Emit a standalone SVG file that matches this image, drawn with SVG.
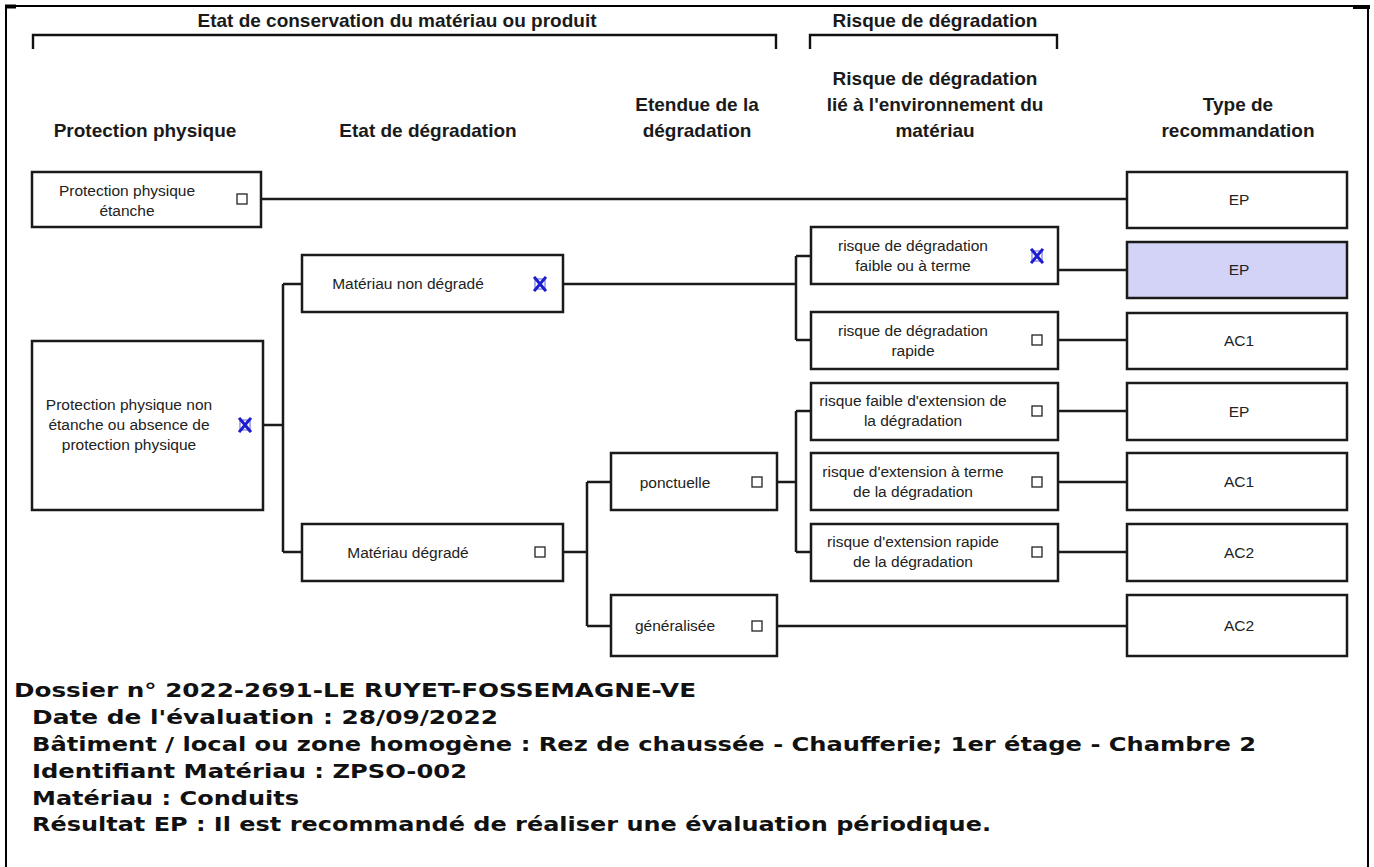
<svg xmlns="http://www.w3.org/2000/svg" width="1374" height="867" viewBox="0 0 1374 867">
<style>
.frame{stroke:#000;stroke-width:2;fill:none}
.brk{stroke:#111;stroke-width:2.4;fill:none}
.hd{font-family:"Liberation Sans",Arial,sans-serif;font-weight:bold;font-size:19px;fill:#1a1a1a;text-anchor:middle}
.box{fill:#fff;stroke:#1a1a1a;stroke-width:2.5}
.sel{fill:#d3d3f7}
.nt{font-family:"Liberation Sans",Arial,sans-serif;font-size:15.5px;fill:#222;text-anchor:middle}
.cb{fill:#fff;stroke:#222;stroke-width:1.3}
.cbx{fill:none;stroke:#1c1cd0;stroke-width:3;stroke-linecap:square}
.con{fill:none;stroke:#1a1a1a;stroke-width:2.5}
.ft{font-family:"DejaVu Sans",Verdana,sans-serif;font-weight:bold;font-size:20px;fill:#111}
</style>
<defs>
<g id="cbox"><rect class="cb" x="-5" y="-5" width="10" height="10"/></g>
<g id="cboxx"><rect x="-5" y="-5" width="10" height="10" fill="#fff" stroke="#7a7ae0" stroke-width="1.2"/><path class="cbx" d="M-5,-6 L5,6 M5,-6 L-5,6"/></g>
</defs>
<rect width="1374" height="867" fill="#fff"/>
<g id="frame">
<path class="frame" d="M6,6 H1369 M6,6 V867 M1368,6 V867"/>
<path d="M5,6.5 H16" stroke="#000" stroke-width="4"/>
<path d="M1353,7 H1370" stroke="#000" stroke-width="4"/>
</g>
<g id="headers">
<text class="hd" x="397" y="27">Etat de conservation du matériau ou produit</text>
<path class="brk" d="M33,49 V35 H776 V49"/>
<text class="hd" x="935" y="27">Risque de dégradation</text>
<path class="brk" d="M810,49 V35 H1057 V49"/>
<text class="hd" x="145" y="137">Protection physique</text>
<text class="hd" x="428" y="137">Etat de dégradation</text>
<text class="hd" x="697" y="111">Etendue de la</text>
<text class="hd" x="697" y="137">dégradation</text>
<text class="hd" x="935" y="85">Risque de dégradation</text>
<text class="hd" x="935" y="111">lié à l'environnement du</text>
<text class="hd" x="935" y="137">matériau</text>
<text class="hd" x="1238" y="111">Type de</text>
<text class="hd" x="1238" y="137">recommandation</text>
</g>
<g id="connectors">
<path class="con" d="M262,199 H1127"/>
<path class="con" d="M263,425 H283 M283,284 V552 M283,284 H302 M283,552 H302"/>
<path class="con" d="M563,284 H796 M796,256 V340 M796,256 H811 M796,340 H811"/>
<path class="con" d="M1058,270 H1127 M1058,340 H1127"/>
<path class="con" d="M563,552 H587 M587,482 V626 M587,482 H611 M587,626 H611"/>
<path class="con" d="M777,482 H796 M796,411 V552 M796,411 H811 M796,552 H811"/>
<path class="con" d="M1058,411 H1127 M1058,482 H1127 M1058,552 H1127 M777,626 H1127"/>
</g>
<g id="n-prot-etanche">
<rect class="box" x="32" y="172" width="229" height="55"/>
<text class="nt" x="127" y="196">Protection physique</text>
<text class="nt" x="127" y="216">étanche</text>
<use href="#cbox" x="242" y="199"/>
</g>
<g id="n-prot-non-etanche">
<rect class="box" x="32" y="341" width="231" height="169"/>
<text class="nt" x="129" y="410">Protection physique non</text>
<text class="nt" x="129" y="430">étanche ou absence de</text>
<text class="nt" x="129" y="450">protection physique</text>
<use href="#cboxx" x="245" y="425"/>
</g>
<g id="n-non-degrade">
<rect class="box" x="302" y="255" width="261" height="57"/>
<text class="nt" x="408" y="289">Matériau non dégradé</text>
<use href="#cboxx" x="540" y="284"/>
</g>
<g id="n-degrade">
<rect class="box" x="302" y="524" width="261" height="57"/>
<text class="nt" x="408" y="558">Matériau dégradé</text>
<use href="#cbox" x="540" y="552"/>
</g>
<g id="n-ponctuelle">
<rect class="box" x="611" y="453" width="166" height="57"/>
<text class="nt" x="675" y="488">ponctuelle</text>
<use href="#cbox" x="757" y="482"/>
</g>
<g id="n-generalisee">
<rect class="box" x="611" y="595" width="166" height="61"/>
<text class="nt" x="675" y="631">généralisée</text>
<use href="#cbox" x="757" y="626"/>
</g>
<g id="n-risque-faible">
<rect class="box" x="811" y="227" width="247" height="57"/>
<text class="nt" x="913" y="251">risque de dégradation</text>
<text class="nt" x="913" y="271">faible ou à terme</text>
<use href="#cboxx" x="1037" y="256"/>
</g>
<g id="n-risque-rapide">
<rect class="box" x="811" y="312" width="247" height="57"/>
<text class="nt" x="913" y="336">risque de dégradation</text>
<text class="nt" x="913" y="356">rapide</text>
<use href="#cbox" x="1037" y="340"/>
</g>
<g id="n-ext-faible">
<rect class="box" x="811" y="383" width="247" height="57"/>
<text class="nt" x="913" y="406">risque faible d'extension de</text>
<text class="nt" x="913" y="426">la dégradation</text>
<use href="#cbox" x="1037" y="411"/>
</g>
<g id="n-ext-terme">
<rect class="box" x="811" y="453" width="247" height="57"/>
<text class="nt" x="913" y="477">risque d'extension à terme</text>
<text class="nt" x="913" y="497">de la dégradation</text>
<use href="#cbox" x="1037" y="482"/>
</g>
<g id="n-ext-rapide">
<rect class="box" x="811" y="524" width="247" height="57"/>
<text class="nt" x="913" y="547">risque d'extension rapide</text>
<text class="nt" x="913" y="567">de la dégradation</text>
<use href="#cbox" x="1037" y="552"/>
</g>
<g id="t1"><rect class="box" x="1127" y="172" width="220" height="56"/><text class="nt" x="1239" y="205">EP</text></g>
<g id="t2"><rect class="box sel" x="1127" y="242" width="220" height="56"/><text class="nt" x="1239" y="275">EP</text></g>
<g id="t3"><rect class="box" x="1127" y="313" width="220" height="56"/><text class="nt" x="1239" y="346">AC1</text></g>
<g id="t4"><rect class="box" x="1127" y="383" width="220" height="57"/><text class="nt" x="1239" y="417">EP</text></g>
<g id="t5"><rect class="box" x="1127" y="453" width="220" height="57"/><text class="nt" x="1239" y="487">AC1</text></g>
<g id="t6"><rect class="box" x="1127" y="524" width="220" height="57"/><text class="nt" x="1239" y="558">AC2</text></g>
<g id="t7"><rect class="box" x="1127" y="595" width="220" height="61"/><text class="nt" x="1239" y="631">AC2</text></g>
<g id="footer">
<text class="ft" x="14" y="697" textLength="682" lengthAdjust="spacingAndGlyphs">Dossier n° 2022-2691-LE RUYET-FOSSEMAGNE-VE</text>
<text class="ft" x="32" y="724" textLength="466" lengthAdjust="spacingAndGlyphs">Date de l'évaluation : 28/09/2022</text>
<text class="ft" x="32" y="751" textLength="1224" lengthAdjust="spacingAndGlyphs">Bâtiment / local ou zone homogène : Rez de chaussée - Chaufferie; 1er étage - Chambre 2</text>
<text class="ft" x="32" y="778" textLength="435" lengthAdjust="spacingAndGlyphs">Identifiant Matériau : ZPSO-002</text>
<text class="ft" x="32" y="805" textLength="267" lengthAdjust="spacingAndGlyphs">Matériau : Conduits</text>
<text class="ft" x="32" y="831" textLength="959" lengthAdjust="spacingAndGlyphs">Résultat EP : Il est recommandé de réaliser une évaluation périodique.</text>
</g>
</svg>
